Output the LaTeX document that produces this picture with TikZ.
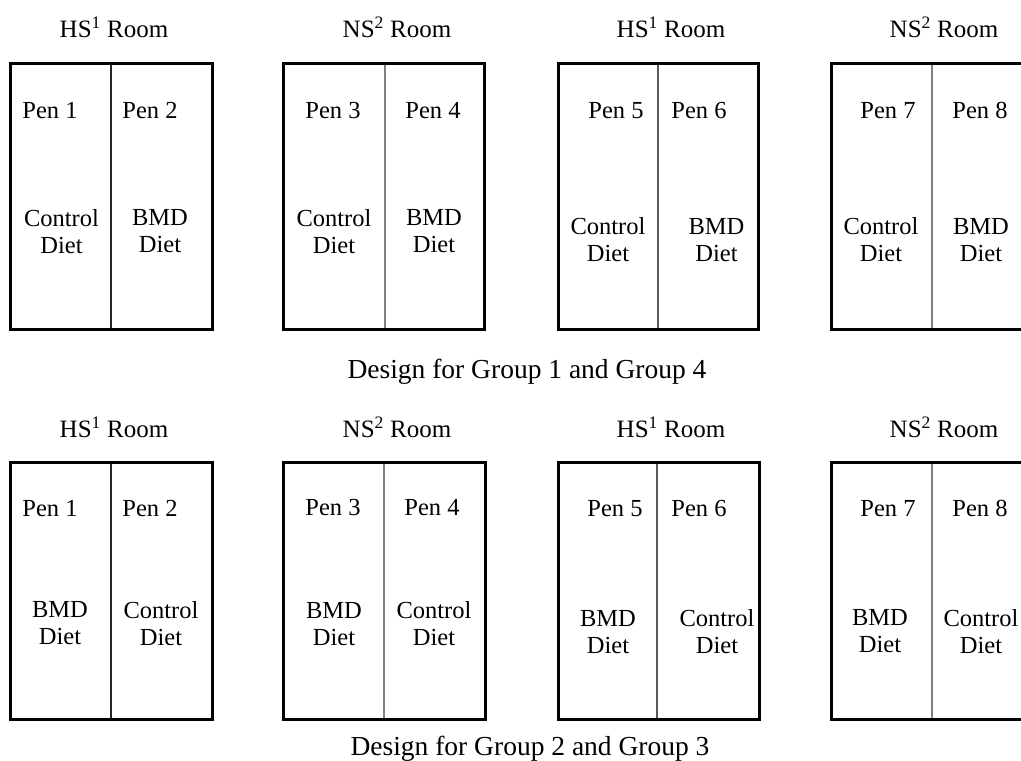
\documentclass[tikz,border=0pt]{standalone}
\usepackage{fontspec}
\setmainfont{Liberation Serif}
\begin{document}
\begin{tikzpicture}[x=1pt,y=-1pt,
  outer/.style={draw=black,line width=3pt},
  divA/.style={draw=black!85,line width=2pt},
  divB/.style={draw=black!50,line width=1.2pt},
  divC/.style={draw=black!65,line width=2.4pt},
  penlbl/.style={inner sep=0pt,text height=16pt,text depth=0pt,font=\fontsize{24.5}{27}\selectfont},
  dietlbl/.style={inner sep=0pt,align=center,font=\fontsize{24.5}{27}\selectfont},
  roomlbl/.style={inner sep=0pt,font=\fontsize{25}{28}\selectfont},
  caplbl/.style={inner sep=0pt,anchor=base,font=\fontsize{27.5}{30}\selectfont}]
\clip (0,0) rectangle (1021,761);
\fill[white] (0,0) rectangle (1021,761);

% ---------- top row boxes ----------
\draw[outer] (10,63) rectangle (212,329);
\draw[divA] (111,64.5) -- (111,327.5);
\draw[outer] (283,63) rectangle (484,329);
\draw[divB] (385,64.5) -- (385,327.5);
\draw[outer] (558,63) rectangle (758,329);
\draw[divC] (658,64.5) -- (658,327.5);
\draw[outer] (831,63) rectangle (1033,329);
\draw[divB] (932,64.5) -- (932,327.5);

% ---------- bottom row boxes ----------
\draw[outer] (10,462) rectangle (212,719);
\draw[divA] (111,463.5) -- (111,717.5);
\draw[outer] (283,462) rectangle (485,719);
\draw[divB] (384,463.5) -- (384,717.5);
\draw[outer] (558,462) rectangle (759,719);
\draw[divC] (657,463.5) -- (657,717.5);
\draw[outer] (831,462) rectangle (1033,719);
\draw[divB] (932,463.5) -- (932,717.5);

% ---------- top row titles ----------
\node[roomlbl] (ta) at (114,27) {HS\textsuperscript{1} Room};
\node[roomlbl] (tb) at (397,27) {NS\textsuperscript{2} Room};
\node[roomlbl] (tc) at (671,27) {HS\textsuperscript{1} Room};
\node[roomlbl] (td) at (944,27) {NS\textsuperscript{2} Room};

% ---------- top row pens ----------
\node[penlbl] (tp1) at (50,110) {Pen 1};
\node[penlbl] (tp2) at (150,110) {Pen 2};
\node[penlbl] (tp3) at (333,110) {Pen 3};
\node[penlbl] (tp4) at (433,110) {Pen 4};
\node[penlbl] (tp5) at (616,110) {Pen 5};
\node[penlbl] (tp6) at (699,110) {Pen 6};
\node[penlbl] (tp7) at (888,110) {Pen 7};
\node[penlbl] (tp8) at (980,110) {Pen 8};

\node[dietlbl] (td1) at (61.5,231.5) {Control\\Diet};
\node[dietlbl] (td2) at (160,231.5) {BMD\\Diet};
\node[dietlbl] (td3) at (334,231.5) {Control\\Diet};
\node[dietlbl] (td4) at (434,231.5) {BMD\\Diet};
\node[dietlbl] (td5) at (608,240) {Control\\Diet};
\node[dietlbl] (td6) at (716.5,240) {BMD\\Diet};
\node[dietlbl] (td7) at (881,240) {Control\\Diet};
\node[dietlbl] (td8) at (981,240) {BMD\\Diet};

\node[caplbl] (cap1) at (527,378) {Design for Group 1 and Group 4};

% ---------- bottom row titles ----------
\node[roomlbl] (ba) at (114,427) {HS\textsuperscript{1} Room};
\node[roomlbl] (bb) at (397,427) {NS\textsuperscript{2} Room};
\node[roomlbl] (bc) at (671,427) {HS\textsuperscript{1} Room};
\node[roomlbl] (bd) at (944,427) {NS\textsuperscript{2} Room};

% ---------- bottom row pens ----------
\node[penlbl] (bp1) at (50,508) {Pen 1};
\node[penlbl] (bp2) at (150,508) {Pen 2};
\node[penlbl] (bp3) at (333,507) {Pen 3};
\node[penlbl] (bp4) at (432,507) {Pen 4};
\node[penlbl] (bp5) at (615,508) {Pen 5};
\node[penlbl] (bp6) at (699,508) {Pen 6};
\node[penlbl] (bp7) at (888,508) {Pen 7};
\node[penlbl] (bp8) at (980,508) {Pen 8};

\node[dietlbl] (bd1) at (60,623.5) {BMD\\Diet};
\node[dietlbl] (bd2) at (161,623.5) {Control\\Diet};
\node[dietlbl] (bd3) at (334,624) {BMD\\Diet};
\node[dietlbl] (bd4) at (434,624) {Control\\Diet};
\node[dietlbl] (bd5) at (608,632) {BMD\\Diet};
\node[dietlbl] (bd6) at (717,632) {Control\\Diet};
\node[dietlbl] (bd7) at (880,631.5) {BMD\\Diet};
\node[dietlbl] (bd8) at (981,631.5) {Control\\Diet};

\node[caplbl] (cap2) at (530,755) {Design for Group 2 and Group 3};
\end{tikzpicture}
\end{document}
